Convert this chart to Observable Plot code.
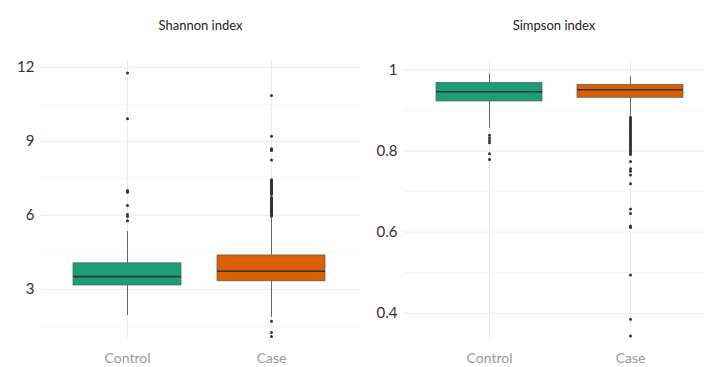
<!DOCTYPE html>
<html><head><meta charset="utf-8">
<script src="https://cdn.jsdelivr.net/npm/d3@7"></script>
<script src="https://cdn.jsdelivr.net/npm/@observablehq/plot@0.6"></script>
<style>
body{margin:0;background:#fff;font-family:Lato,sans-serif}
#wrap{display:flex;width:704px;height:367px;overflow:hidden}
</style></head><body><div id="wrap"></div>
<script>
const groups = ["Control", "Case"];
const groupColors = ["#1b9e77", "#d95f02"];

// Shannon index box statistics (Control, Case)
const shannonQ1 = [3.15, 3.32];
const shannonMedian = [3.51, 3.73];
const shannonQ3 = [4.05, 4.37];
const shannonLow = [1.93, 1.86];
const shannonHigh = [5.34, 5.95];
const shannonControlOutliers = [11.77, 9.92, 7.01, 6.96, 6.93, 6.40, 6.03, 5.95, 5.78];
const shannonCaseOutliers = [10.86, 9.21, 8.70, 8.66, 8.63, 8.24, 7.44, 7.40, 7.35, 7.30, 7.26, 7.22, 7.18, 7.13, 7.08, 7.04, 7.00, 6.96, 6.92, 6.88, 6.84, 6.72, 6.68, 6.64, 6.60, 6.56, 6.52, 6.48, 6.44, 6.40, 6.36, 6.32, 6.28, 6.24, 6.20, 6.16, 6.12, 6.08, 6.04, 6.00, 5.97, 1.70, 1.24, 1.08];
const shannonTicks = [3, 6, 9, 12];
const shannonMinor = [1.5, 4.5, 7.5, 10.5];

// Simpson index box statistics (Control, Case)
const simpsonQ1 = [0.922, 0.931];
const simpsonMedian = [0.946, 0.951];
const simpsonQ3 = [0.968, 0.963];
const simpsonLow = [0.857, 0.886];
const simpsonHigh = [0.990, 0.983];
const simpsonControlOutliers = [0.839, 0.832, 0.826, 0.820, 0.793, 0.779];
const simpsonCaseOutliers = [0.883, 0.879, 0.875, 0.871, 0.867, 0.863, 0.859, 0.855, 0.851, 0.847, 0.843, 0.839, 0.835, 0.831, 0.827, 0.823, 0.819, 0.815, 0.811, 0.807, 0.803, 0.799, 0.795, 0.791, 0.774, 0.756, 0.750, 0.741, 0.719, 0.657, 0.646, 0.615, 0.611, 0.494, 0.385, 0.344];
const simpsonTicks = [0.4, 0.6, 0.8, 1];
const simpsonMinor = [0.5, 0.7, 0.9];

function boxTable(q1, med, q3, lo, hi) {
  return groups.map((g, i) => ({group: g, color: groupColors[i], q1: q1[i], median: med[i], q3: q3[i], low: lo[i], high: hi[i]}));
}
function outlierTable(ctrl, cs) {
  return [...ctrl.map(v => ({group: "Control", value: v})), ...cs.map(v => ({group: "Case", value: v}))];
}

function panel({width, marginLeft, xRange, yDomain, ticks, minor, title, boxes, outliers}) {
  return Plot.plot({
    width, height: 367,
    marginTop: 60, marginBottom: 29, marginLeft, marginRight: 0,
    style: {fontFamily: "Lato, sans-serif", background: "#fff", overflow: "visible"},
    x: {type: "band", domain: groups, range: xRange, paddingInner: 0.25, paddingOuter: 0.225, label: null},
    y: {domain: yDomain, label: null},
    marks: [
      Plot.gridY(minor, {stroke: "#f4f4f4", strokeOpacity: 1}),
      Plot.gridY(ticks, {stroke: "#ebebeb", strokeOpacity: 1}),
      Plot.gridX(groups, {stroke: "#ebebeb", strokeOpacity: 1}),
      Plot.axisY(ticks, {tickSize: 0, tickPadding: 6, fontSize: 15, color: "#333", tickFormat: d => String(d), label: null}),
      Plot.axisX({tickSize: 0, tickPadding: 15, fontSize: 14, color: "#9a9a9a", label: null}),
      Plot.ruleX(boxes, {x: "group", y1: "low", y2: "high", stroke: "#666", strokeWidth: 1}),
      Plot.barY(boxes, {x: "group", y1: "q1", y2: "q3", fill: "color", stroke: "#5a5a5a", strokeWidth: 0.7}),
      Plot.tickY(boxes, {x: "group", y: "median", stroke: "#333", strokeWidth: 1.6}),
      Plot.dot(outliers, {x: "group", y: "value", r: 1.5, fill: "#333", stroke: null}),
      Plot.text([title], {frameAnchor: "top", dy: -40, fontSize: 13, fill: "#222"})
    ]
  });
}

const wrap = document.getElementById("wrap");
wrap.appendChild(panel({
  width: 360, marginLeft: 40, xRange: [40, 357], yDomain: [1.0, 12.28],
  ticks: shannonTicks, minor: shannonMinor, title: "Shannon index",
  boxes: boxTable(shannonQ1, shannonMedian, shannonQ3, shannonLow, shannonHigh),
  outliers: outlierTable(shannonControlOutliers, shannonCaseOutliers)
}));
wrap.appendChild(panel({
  width: 344, marginLeft: 43, xRange: [44, 355], yDomain: [0.3376, 1.023],
  ticks: simpsonTicks, minor: simpsonMinor, title: "Simpson index",
  boxes: boxTable(simpsonQ1, simpsonMedian, simpsonQ3, simpsonLow, simpsonHigh),
  outliers: outlierTable(simpsonControlOutliers, simpsonCaseOutliers)
}));
</script></body></html>
